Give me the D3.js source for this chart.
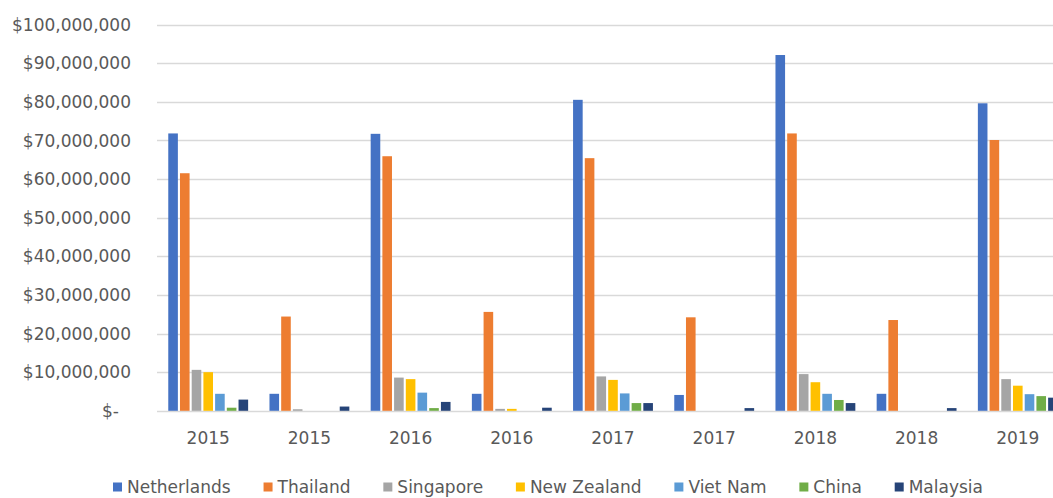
<!DOCTYPE html>
<html>
<head>
<meta charset="utf-8">
<script src="https://cdn.jsdelivr.net/npm/d3@7"></script>
<style>
  html, body { margin: 0; padding: 0; background: #ffffff; }
  svg { display: block; }
  text { font-family: "DejaVu Sans", "Liberation Sans", sans-serif; fill: #595959; }
</style>
</head>
<body>
<svg id="chart" width="1053" height="498"></svg>
<script>
// Category labels along the x axis (two groups per year)
const categories = ["2015", "2015", "2016", "2016", "2017", "2017", "2018", "2018", "2019"];

// Series names and colours
const seriesNames = ["Netherlands", "Thailand", "Singapore", "New Zealand", "Viet Nam", "China", "Malaysia"];
const seriesColors = ["#4472C4", "#ED7D31", "#A5A5A5", "#FFC000", "#5B9BD5", "#70AD47", "#264478"];

// Values per series, one per category (US dollars)
const netherlands = [71800000, 4400000, 71700000, 4400000, 80500000, 4100000, 92100000, 4400000, 79600000];
const thailand    = [61500000, 24400000, 65900000, 25600000, 65400000, 24200000, 71800000, 23500000, 70100000];
const singapore   = [10600000, 400000, 8600000, 500000, 8900000, 0, 9500000, 0, 8200000];
const newZealand  = [10000000, 0, 8200000, 500000, 8000000, 0, 7400000, 0, 6500000];
const vietNam     = [4400000, 0, 4700000, 0, 4500000, 0, 4400000, 0, 4300000];
const china       = [800000, 0, 700000, 0, 2000000, 0, 2800000, 0, 3800000];
const malaysia    = [2900000, 1100000, 2300000, 800000, 2000000, 700000, 2000000, 700000, 3400000];

// Y axis tick values
const yTicks = [0, 10000000, 20000000, 30000000, 40000000, 50000000, 60000000, 70000000, 80000000, 90000000, 100000000];

const seriesValues = [netherlands, thailand, singapore, newZealand, vietNam, china, malaysia];

const svg = d3.select("#chart");

// Plot area (extends past the right edge of the page)
const plotLeft = 157.6, step = 101.2;
const plotRight = plotLeft + step * categories.length;
const plotTop = 24.5, plotBottom = 410.8;

const x0 = d3.scaleBand()
  .domain(d3.range(categories.length))
  .range([plotLeft, plotRight])
  .paddingInner(0.19)
  .paddingOuter(0.095);

const x1 = d3.scaleBand()
  .domain(d3.range(seriesNames.length))
  .range([0, x0.bandwidth()])
  .paddingInner(0.18)
  .paddingOuter(0.09);

const y = d3.scaleLinear()
  .domain([0, 100000000])
  .range([plotBottom, plotTop]);

const color = d3.scaleOrdinal().domain(d3.range(seriesNames.length)).range(seriesColors);

// Gridlines
svg.append("g")
  .selectAll("line")
  .data(yTicks)
  .join("line")
  .attr("x1", plotLeft - 0.6)
  .attr("x2", plotRight)
  .attr("y1", d => Math.round(y(d)) + 0.5)
  .attr("y2", d => Math.round(y(d)) + 0.5)
  .attr("stroke", "#d9d9d9")
  .attr("stroke-width", 1.3);

// Y axis labels, accounting style
const fmt = d3.format(",");
svg.append("g")
  .selectAll("text")
  .data(yTicks)
  .join("text")
  .attr("x", d => d === 0 ? 119 : 131)
  .attr("y", d => y(d))
  .attr("dy", "0.36em")
  .attr("text-anchor", "end")
  .attr("font-size", 17)
  .text(d => d === 0 ? "$-" : "$" + fmt(d));

// Bars
const groups = svg.append("g")
  .selectAll("g")
  .data(categories.map((c, i) => i))
  .join("g")
  .attr("transform", i => `translate(${x0(i)},0)`);

groups.selectAll("rect")
  .data(i => seriesValues.map((vals, s) => ({ s, v: vals[i] })))
  .join("rect")
  .filter(d => d.v > 0)
  .attr("x", d => x1(d.s))
  .attr("width", x1.bandwidth())
  .attr("y", d => y(d.v))
  .attr("height", d => y(0) - y(d.v))
  .attr("fill", d => color(d.s));

// X axis labels
svg.append("g")
  .selectAll("text")
  .data(categories)
  .join("text")
  .attr("x", (d, i) => x0(i) + x0.bandwidth() / 2)
  .attr("y", 444)
  .attr("text-anchor", "middle")
  .attr("font-size", 17)
  .text(d => d);

// Legend
const legend = svg.append("g");
const items = legend.selectAll("g")
  .data(seriesNames)
  .join("g");
items.append("rect")
  .attr("width", 9)
  .attr("height", 9)
  .attr("y", 482.5)
  .attr("fill", (d, i) => seriesColors[i]);
items.append("text")
  .attr("x", 14)
  .attr("y", 493)
  .attr("font-size", 17)
  .text(d => d);

const widths = [];
items.each(function () { widths.push(this.getBBox().width); });
const legendStart = 113, legendEnd = 983;
const totalItems = d3.sum(widths);
const gap = (legendEnd - legendStart - totalItems) / (seriesNames.length - 1);
let cx = legendStart;
items.attr("transform", (d, i) => {
  const t = `translate(${cx},0)`;
  cx += widths[i] + gap;
  return t;
});
</script>
</body>
</html>
